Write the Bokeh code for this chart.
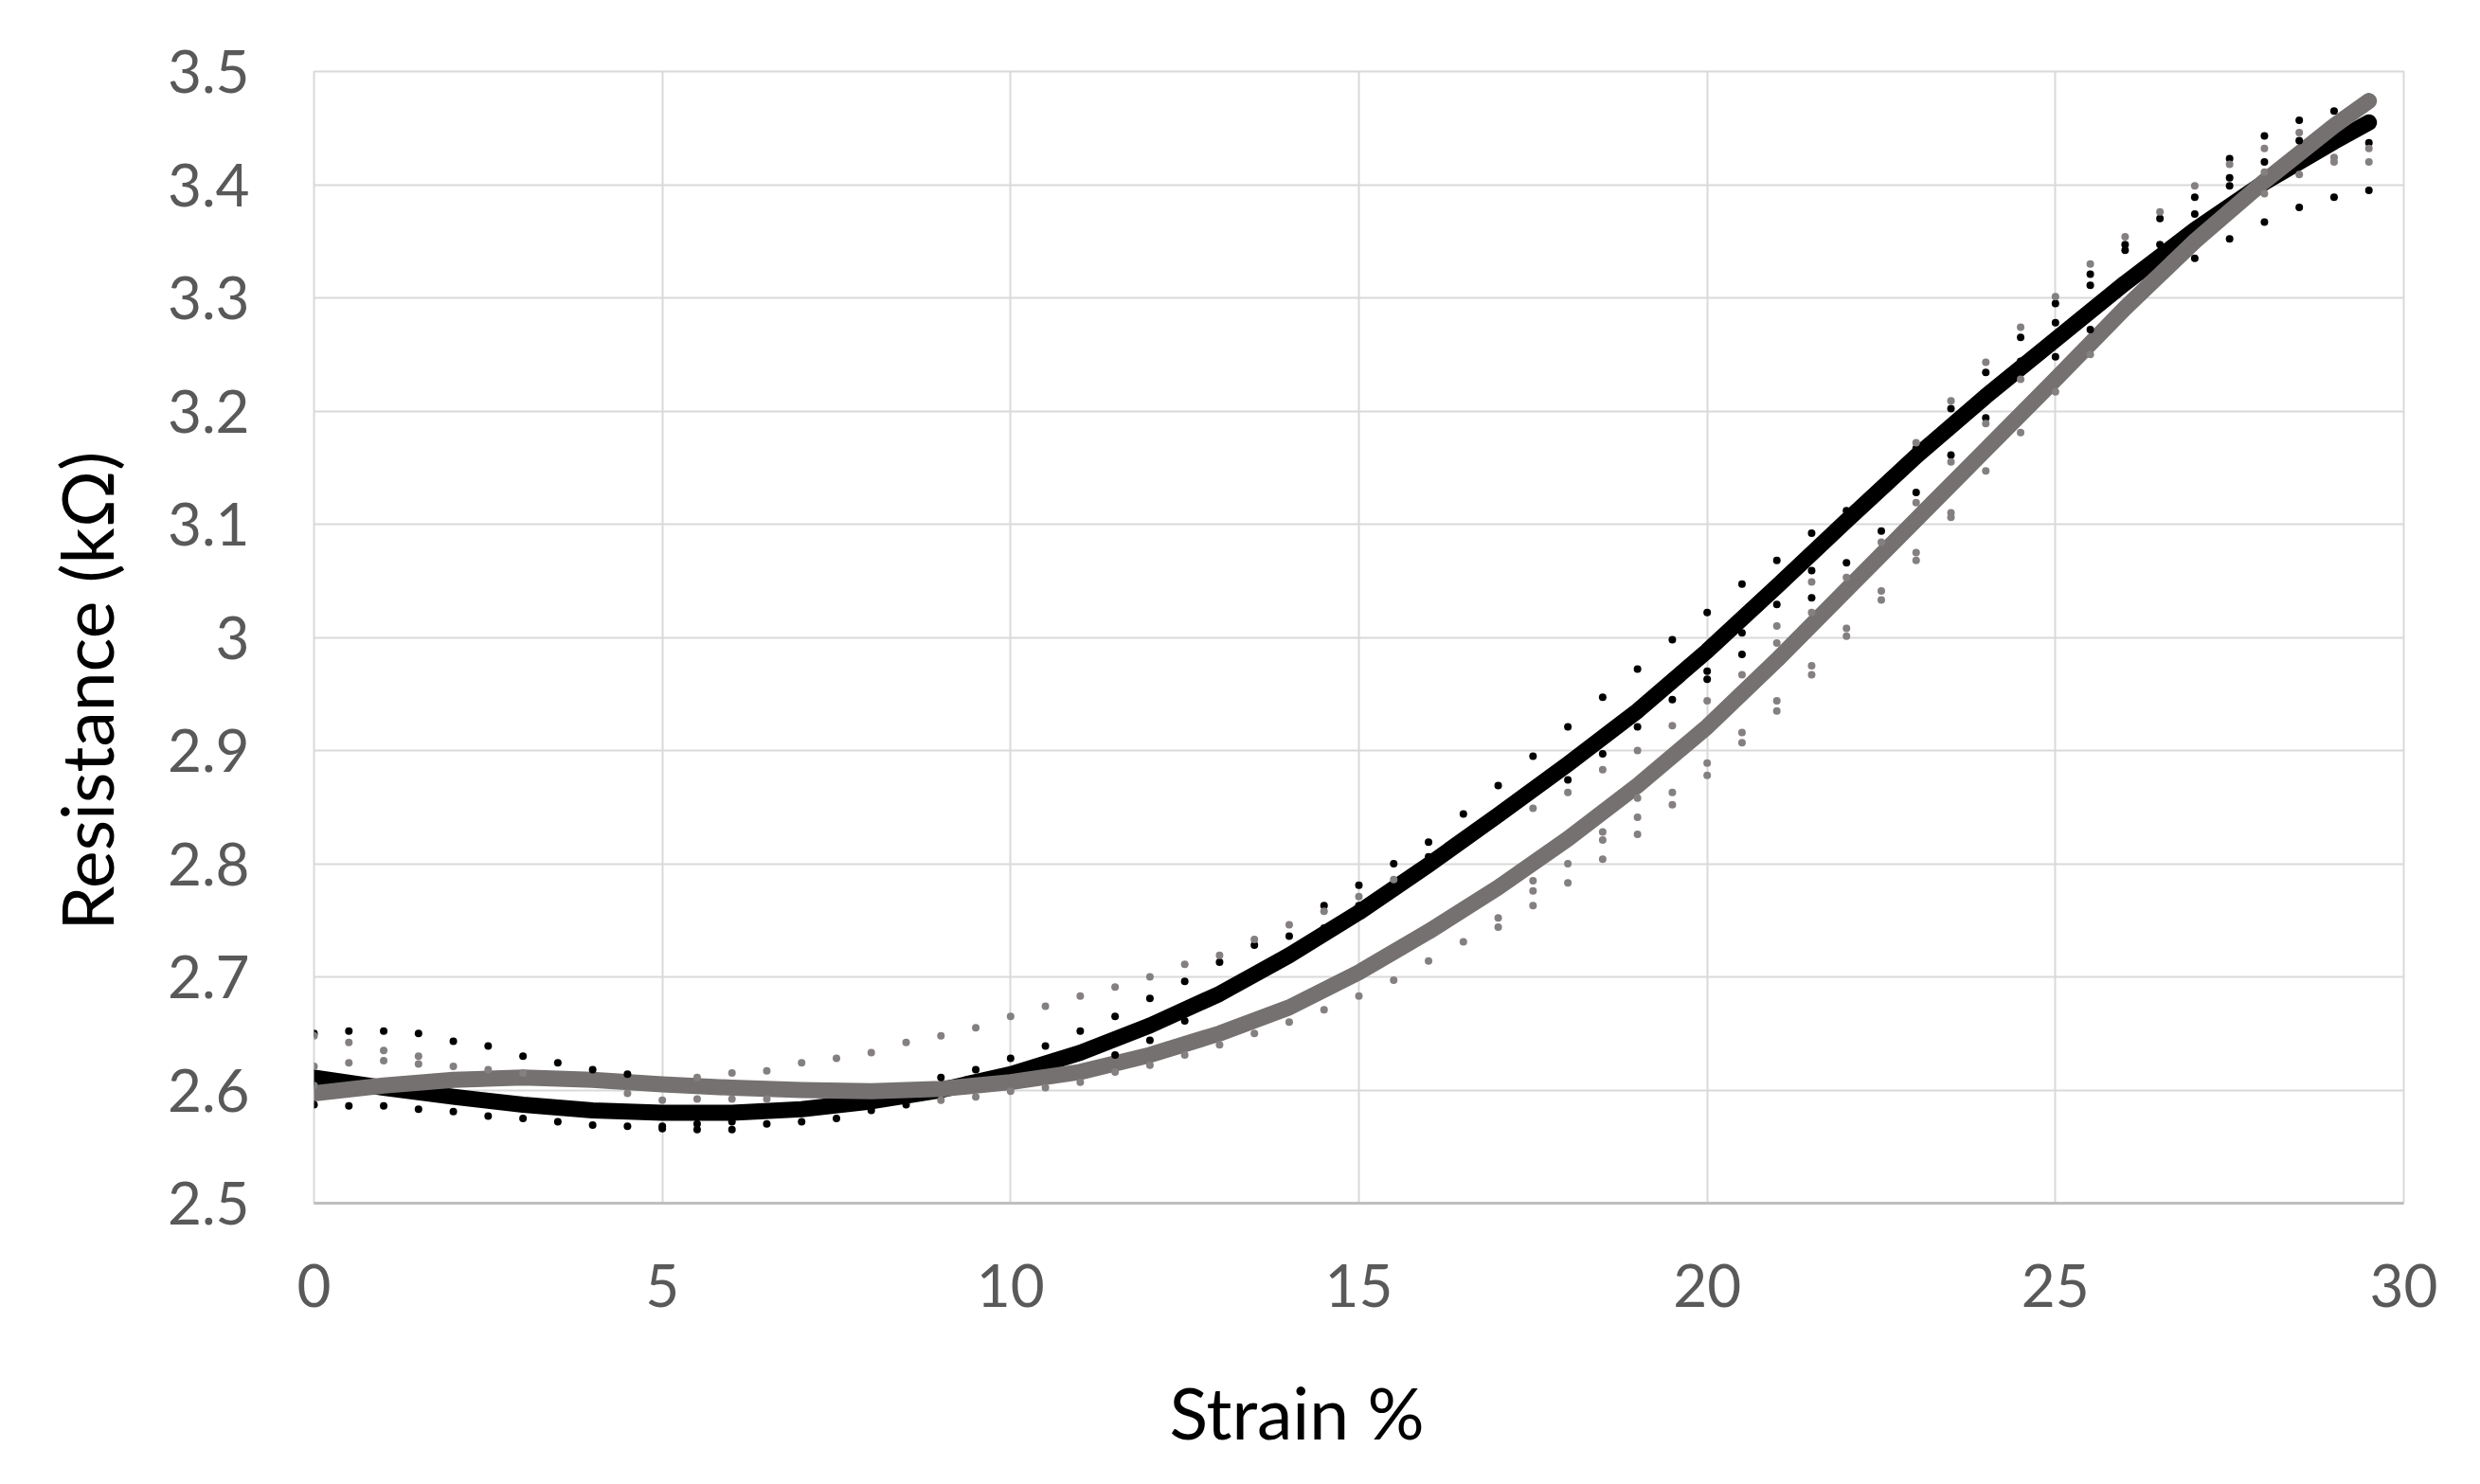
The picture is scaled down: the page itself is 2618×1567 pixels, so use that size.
from bokeh.plotting import figure
from bokeh.models import Range1d, FixedTicker, NumeralTickFormatter, Title
from bokeh.embed import file_html
from bokeh.resources import INLINE

# ---- data ----
x_ticks = [0, 5, 10, 15, 20, 25, 30]
y_ticks = [2.5, 2.6, 2.7, 2.8, 2.9, 3.0, 3.1, 3.2, 3.3, 3.4, 3.5]
x_title = "Strain %"
y_title = "Resistance (kΩ)"

# fitted curves
black_curve_x = [0, 1, 2, 3, 4, 5, 6, 7, 8, 9, 10, 11, 12, 13, 14, 15, 16, 17, 18, 19, 20,
                 21, 22, 23, 24, 25, 26, 27, 28, 29, 29.5]
black_curve_y = [2.611, 2.602, 2.594, 2.587, 2.582, 2.580, 2.580, 2.583, 2.590, 2.600, 2.614,
                 2.633, 2.657, 2.685, 2.719, 2.757, 2.799, 2.843, 2.888, 2.935, 2.988,
                 3.045, 3.103, 3.160, 3.213, 3.263, 3.313, 3.360, 3.402, 3.438, 3.455]
gray_curve_x = [0, 1, 2, 3, 4, 5, 6, 7, 8, 9, 10, 11, 12, 13, 14, 15, 16, 17, 18, 19, 20,
                21, 22, 23, 24, 25, 26, 27, 28, 29, 29.5]
gray_curve_y = [2.597, 2.604, 2.609, 2.611, 2.609, 2.605, 2.602, 2.600, 2.599, 2.601, 2.607,
                2.616, 2.631, 2.650, 2.673, 2.704, 2.740, 2.779, 2.822, 2.869, 2.921,
                2.980, 3.042, 3.104, 3.166, 3.228, 3.291, 3.350, 3.403, 3.452, 3.474]

# raw measurement points
black_pts_x = [0, 0, 0.5, 0.5, 1, 1, 1.5, 1.5, 2, 2, 2.5, 2.5, 3, 3, 3.5, 3.5, 4, 4, 4.5, 4.5,
               5, 5, 5.5, 5.5, 6, 6, 6.5, 7, 7.5, 8, 8.5, 9, 9.5, 10, 10.5, 11,
               11.5, 11.5, 12, 12, 12.5, 12.5, 13, 13.5, 14, 14.5, 14.5, 15, 15, 15.5, 15.5,
               16, 16, 16.5, 16.5, 17, 17, 17.5, 17.5, 18, 18, 18.5, 18.5, 19, 19, 19.5, 19.5,
               20, 20, 20, 20.5, 20.5, 20.5, 21, 21, 21.5, 21.5, 21.5, 22, 22, 22.5, 22.5,
               23, 23, 23.5, 23.5, 24, 24, 24.5, 24.5, 25, 25, 25, 25.5, 25.5, 25.5,
               26, 26, 26.5, 26.5, 27, 27, 27, 27.5, 27.5, 27.5, 27.5, 28, 28, 28,
               28.5, 28.5, 28.5, 29, 29, 29.5, 29.5]
black_pts_y = [2.650, 2.587, 2.652, 2.586, 2.652, 2.586, 2.650, 2.583, 2.643, 2.581, 2.639, 2.577,
               2.630, 2.575, 2.624, 2.572, 2.618, 2.569, 2.614, 2.568,
               2.568, 2.566, 2.570, 2.565, 2.572, 2.565, 2.570, 2.572, 2.575, 2.582, 2.587,
               2.611, 2.618, 2.628, 2.639, 2.652,
               2.665, 2.631, 2.681, 2.644, 2.696, 2.661, 2.713, 2.728, 2.736, 2.763, 2.743,
               2.781, 2.763, 2.800, 2.781,
               2.819, 2.806, 2.844, 2.825, 2.869, 2.846, 2.895, 2.862, 2.921, 2.874,
               2.947, 2.897, 2.972, 2.921, 2.998, 2.945,
               3.022, 2.970, 2.963, 3.047, 3.004, 2.985, 3.068, 3.029, 3.092, 3.059, 3.035,
               3.112, 3.066, 3.133, 3.094,
               3.167, 3.128, 3.202, 3.161, 3.234, 3.194, 3.265, 3.244, 3.295, 3.278, 3.248,
               3.321, 3.311, 3.272,
               3.347, 3.342, 3.370, 3.347, 3.389, 3.374, 3.335, 3.423, 3.406, 3.399, 3.352,
               3.443, 3.420, 3.367,
               3.457, 3.439, 3.380, 3.465, 3.389, 3.437, 3.395]

gray_pts_x = [0, 0, 0, 0.5, 0.5, 1, 1, 1.5, 1.5, 2, 2.5, 3, 4.5, 5, 5.5, 5.5, 6, 6, 6.5, 6.5,
              7, 7.5, 8, 8.5, 9, 9, 9.5, 9.5, 10, 10, 10.5, 10.5, 11, 11, 11.5, 11.5,
              12, 12, 12.5, 12.5, 13, 13, 13.5, 13.5, 14, 14, 14.5, 14.5, 15, 15, 15.5, 15.5,
              16, 16.5, 17, 17, 17.5, 17.5, 17.5, 17.5, 18, 18, 18, 18.5, 18.5, 18.5, 18.5,
              19, 19, 19, 19, 19.5, 19.5, 19.5, 20, 20, 20, 20.5, 20.5, 20.5,
              21, 21, 21, 21, 21.5, 21.5, 21.5, 21.5, 22, 22, 22, 22.5, 22.5, 22.5,
              23, 23, 23, 23, 23.5, 23.5, 23.5, 23.5, 24, 24, 24, 24.5, 24.5, 24.5,
              25, 25, 25.5, 25.5, 26, 26.5, 27, 27.5, 28, 28, 28, 28.5, 28.5, 29, 29, 29.5, 29.5]
gray_pts_y = [2.648, 2.621, 2.604, 2.642, 2.624, 2.635, 2.626, 2.630, 2.623, 2.621, 2.618, 2.615,
              2.597, 2.591, 2.611, 2.592, 2.615, 2.592, 2.617, 2.592,
              2.624, 2.628, 2.633, 2.642, 2.648, 2.591, 2.655, 2.594, 2.665, 2.599, 2.674, 2.602,
              2.683, 2.607, 2.691, 2.616,
              2.700, 2.622, 2.711, 2.631, 2.719, 2.640, 2.733, 2.650, 2.746, 2.660, 2.758, 2.671,
              2.771, 2.683, 2.786, 2.697,
              2.714, 2.731, 2.752, 2.744, 2.849, 2.785, 2.776, 2.763, 2.863, 2.800, 2.783,
              2.883, 2.828, 2.821, 2.804,
              2.900, 2.858, 2.841, 2.826, 2.922, 2.863, 2.852, 2.944, 2.889, 2.878,
              2.967, 2.916, 2.907,
              3.010, 2.995, 2.944, 2.935, 3.049, 3.022, 2.975, 2.967, 3.053, 3.008, 3.001,
              3.084, 3.041, 3.033,
              3.172, 3.119, 3.075, 3.068, 3.209, 3.155, 3.110, 3.106, 3.243, 3.189, 3.147,
              3.274, 3.228, 3.181,
              3.301, 3.217, 3.330, 3.250, 3.354, 3.376, 3.399, 3.418, 3.432, 3.411, 3.392,
              3.446, 3.409, 3.424, 3.420, 3.432, 3.420]

# ---- figure ----
p = figure(frame_width=2206, frame_height=1195,
           min_border_left=331, min_border_right=60, min_border_top=75, min_border_bottom=260,
           x_range=Range1d(0, 30), y_range=Range1d(2.5, 3.5),
           output_backend="svg", toolbar_location=None)
p.background_fill_color = "white"
p.border_fill_color = "white"
p.outline_line_color = "#d9d9d9"
p.outline_line_width = 2

p.xaxis.ticker = FixedTicker(ticks=x_ticks)
p.yaxis.ticker = FixedTicker(ticks=y_ticks)
p.yaxis.formatter = NumeralTickFormatter(format="0.[0]")

for ax in (p.xaxis[0], p.yaxis[0]):
    ax.major_label_text_font = "Lato"
    ax.major_label_text_font_size = "62px"
    ax.major_label_text_color = "#595959"
    ax.major_tick_line_color = None
    ax.minor_tick_line_color = None
    ax.major_tick_out = 0
    ax.major_tick_in = 0

p.xaxis.axis_line_color = "#bfbfbf"
p.xaxis.axis_line_width = 3
p.yaxis.axis_line_color = None
p.xaxis.major_label_standoff = 64
p.yaxis.major_label_standoff = 68

p.xgrid.grid_line_color = "#d9d9d9"
p.ygrid.grid_line_color = "#d9d9d9"
p.xgrid.grid_line_width = 2
p.ygrid.grid_line_width = 2

black = "#000000"
gray = "#767171"

p.line(black_curve_x, black_curve_y, line_color=black, line_width=17,
       line_join="round", line_cap="round")
p.line(gray_curve_x, gray_curve_y, line_color=gray, line_width=17,
       line_join="round", line_cap="round")
p.scatter(black_pts_x, black_pts_y, marker="circle", size=8, fill_color=black, line_color=None)
p.scatter(gray_pts_x, gray_pts_y, marker="circle", size=8, fill_color="#858080", line_color=None)

# axis titles, positioned like the original (centred on the chart area, not the plot frame)
xt = Title(text=x_title, align="left", offset=903, standoff=122,
           text_font="Lato", text_font_size="75px", text_font_style="normal",
           text_color="#000000")
p.add_layout(xt, "below")
yt = Title(text=y_title, align="left", offset=288, standoff=76,
           text_font="Lato", text_font_size="75px", text_font_style="normal",
           text_color="#000000")
p.add_layout(yt, "left")

open("out.html", "w").write(file_html(p, INLINE))
